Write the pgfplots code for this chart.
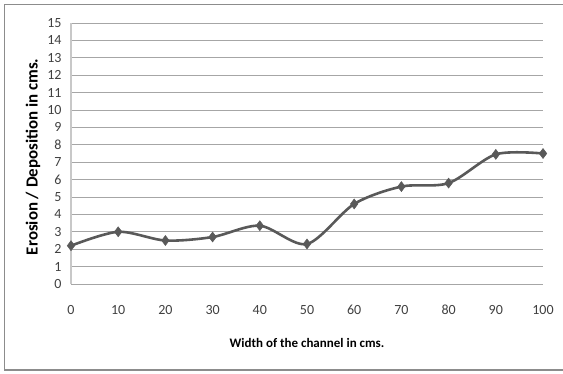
\documentclass[border=0pt]{standalone}
\usepackage{pgfplots}
\pgfplotsset{compat=1.18}
\usepackage{fontspec}
\setmainfont{Carlito}
\definecolor{linegray}{HTML}{595959}
\definecolor{gridgray}{HTML}{A6A6A6}
\definecolor{axisgray}{HTML}{C8C8C8}
\definecolor{framegray}{HTML}{8C8C8C}
\definecolor{ticktext}{HTML}{404040}
\begin{document}
\begin{tikzpicture}[x=1pt,y=1pt]
% outer chart frame
\draw[framegray, line width=1.2pt] (570,-370) -- (4.5,-370) -- (4.5,-4.5) -- (570,-4.5);
\begin{axis}[
  at={(71pt,-284pt)}, anchor=south west,
  scale only axis, width=472pt, height=261pt,
  xmin=0, xmax=100, ymin=0, ymax=15,
  xtick={0,10,...,100}, ytick={0,1,...,15},
  axis line style={draw=none},
  ymajorgrids, grid style={gridgray, line width=0.9pt},
  major tick length=0pt,
  tick label style={font=\fontsize{14}{15}\selectfont, text=ticktext},
  /pgf/number format/assume math mode=true,
  xticklabel style={anchor=base, yshift=-30pt},
  yticklabel style={xshift=-6pt},
  xlabel={\textbf{Width of the channel in cms.}},
  ylabel={\textbf{Erosion / Deposition in cms.}},
  xlabel style={font=\fontsize{13}{14}\selectfont, text=black,
    at={(axis description cs:0.5,0)}, anchor=center, yshift=-59pt},
  ylabel style={font=\fontsize{16.9}{18}\selectfont, text=black,
    at={(axis description cs:-0.0805,0.487)}, anchor=center, rotate=0},
  clip=false,
]
\draw[axisgray, line width=1.2pt] (axis cs:0,0) -- (axis cs:0,15);
\addplot[linegray, line width=2.6pt, smooth, tension=0.5,
  mark=diamond*, mark size=5pt, mark options={solid, fill=linegray, line width=0.5pt}]
  coordinates {
  (0,2.2) (10,3.0) (20,2.5) (30,2.7) (40,3.35) (50,2.3)
  (60,4.6) (70,5.6) (80,5.8) (90,7.45) (100,7.5)
  };
\end{axis}
\pgfresetboundingbox
\path[use as bounding box] (0,0) rectangle (563,-374);
\end{tikzpicture}
\end{document}
